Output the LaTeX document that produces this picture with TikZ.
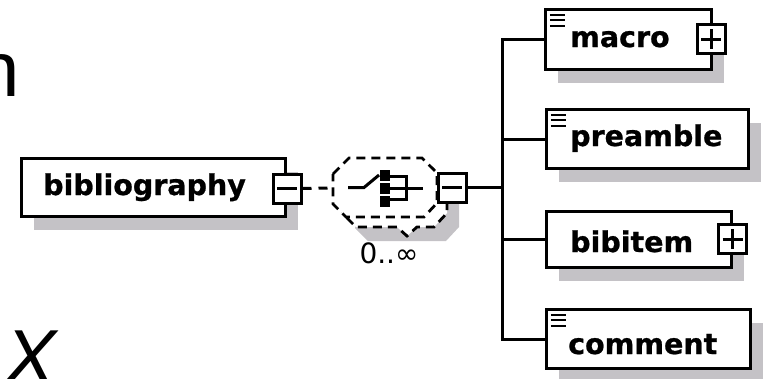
\documentclass[tikz,border=0pt]{standalone}
\usepackage{fontspec}
\setmainfont{DejaVu Sans}
\newfontfamily\libsans{Liberation Sans}
\newfontfamily\boxfont[FakeBold=0.8]{DejaVu Sans Bold}
\usetikzlibrary{shadows}
\definecolor{shadowgray}{RGB}{196,194,198}
\newcommand\threelines[1]{%
  \foreach \d in {7,12.5,18}{\draw[iconline] ([xshift=6pt,yshift=-\d pt]#1.north west) -- ++(15,0);}}
\begin{document}
\begin{tikzpicture}[x=1pt,y=-1pt,
  elbox/.style={draw, line width=3.5pt, fill=white, rectangle, inner sep=0pt,
    drop shadow={shadow xshift=12pt, shadow yshift=-13pt, fill=shadowgray, opacity=1}},
  pmbox/.style={draw, line width=3pt, fill=white, rectangle, inner sep=0pt,
    minimum width=28pt, minimum height=29pt},
  sign/.style={line width=3pt},
  conn/.style={line width=3pt},
  dconn/.style={line width=3pt, dash pattern=on 9pt off 7pt},
  comp/.style={line width=2.8pt, dash pattern=on 9pt off 6pt, fill=white},
  iconline/.style={line width=2.4pt},
  lbl/.style={font=\boxfont\fontsize{28.5}{30}\selectfont, inner sep=0pt, anchor=base west},
]
\useasboundingbox (0,0) rectangle (766,378);

% partial big letters at the left
\node[font=\libsans\fontsize{78}{80}\selectfont, inner sep=0pt, anchor=base east] (tn) at (20,96) {n};
\node[font=\libsans\itshape\fontsize{78}{80}\selectfont, inner sep=0pt, anchor=base west] (tx) at (4,384) {X};

% bibliography element
\node[elbox, minimum width=264pt, minimum height=58pt] (bib) at (153.5,187.5) {};
\node[lbl] (tbib) at (43,195) {bibliography};
\node[pmbox] (bibm) at (287,188.5) {};
\draw[sign] ([xshift=-10pt]bibm.center) -- ([xshift=10pt]bibm.center);

% sequence compositor (optional, unbounded)
\fill[shadowgray] (355,198) -- (371,182) -- (444,182) -- (459,197) -- (459,227) -- (446,241) -- (368,241) -- (355,228) -- cycle;
\draw[comp] (343,184) -- (359,168) -- (432,168) -- (447,183) -- (447,213) -- (434,227)
  -- (417,227) -- (407,236) -- (397,227) -- (356,227) -- (343,214) -- cycle;
\draw[comp] (333,174) -- (349,158) -- (422,158) -- (437,173) -- (437,203) -- (424,217)
  -- (346,217) -- (333,204) -- cycle;
\coordinate (seqin) at (333,188);
\draw[dconn] (bibm.east) -- (seqin);
% sequence symbol
\draw[conn] (348,187.5) -- (364,187.5) -- (379,175);
\fill (380,170) rectangle (390,181);
\fill (380,183) rectangle (390,194);
\fill (380,196) rectangle (390,207);
\draw[conn] (390,176.5) -- (406,176.5) -- (406,199.5) -- (390,199.5);
\draw[conn] (390,188) -- (423,188);
\node[pmbox] (seqm) at (452,187.5) {};
\draw[sign] ([xshift=-10pt]seqm.center) -- ([xshift=10pt]seqm.center);
\node[font=\fontsize{28}{30}\selectfont, inner sep=0pt] (card) at (389,253) {0..∞};

% children
\node[elbox, minimum width=166pt, minimum height=60pt] (macro) at (628.5,39.5) {};
\node[lbl] (tmacro) at (570,47) {macro};
\threelines{macro}
\node[pmbox] (macp) at (711,39) {};
\draw[sign] ([xshift=-10pt]macp.center) -- ([xshift=10pt]macp.center);
\draw[sign] ([yshift=-10pt]macp.center) -- ([yshift=10pt]macp.center);

\node[elbox, minimum width=202pt, minimum height=59pt] (pre) at (647.5,139) {};
\node[lbl] (tpre) at (570,146) {preamble};
\threelines{pre}

\node[elbox, minimum width=185pt, minimum height=56pt] (bibi) at (639,239.5) {};
\node[lbl] (tbibi) at (570,252) {bibitem};
\node[pmbox] (bibp) at (732.5,239) {};
\draw[sign] ([xshift=-10pt]bibp.center) -- ([xshift=10pt]bibp.center);
\draw[sign] ([yshift=-10pt]bibp.center) -- ([yshift=10pt]bibp.center);

\node[elbox, minimum width=204pt, minimum height=59pt] (com) at (648.5,339) {};
\node[lbl] (tcom) at (568,354) {comment};
\threelines{com}

% connectors
\coordinate (fork) at (502,187.5);
\draw[conn] (seqm.east) -- (fork);
\draw[conn] (macro.west) -| (fork);
\draw[conn] (pre.west) -| (fork);
\draw[conn] (bibi.west) -| (fork);
\draw[conn] (com.west) -| (fork);
\end{tikzpicture}
\end{document}
